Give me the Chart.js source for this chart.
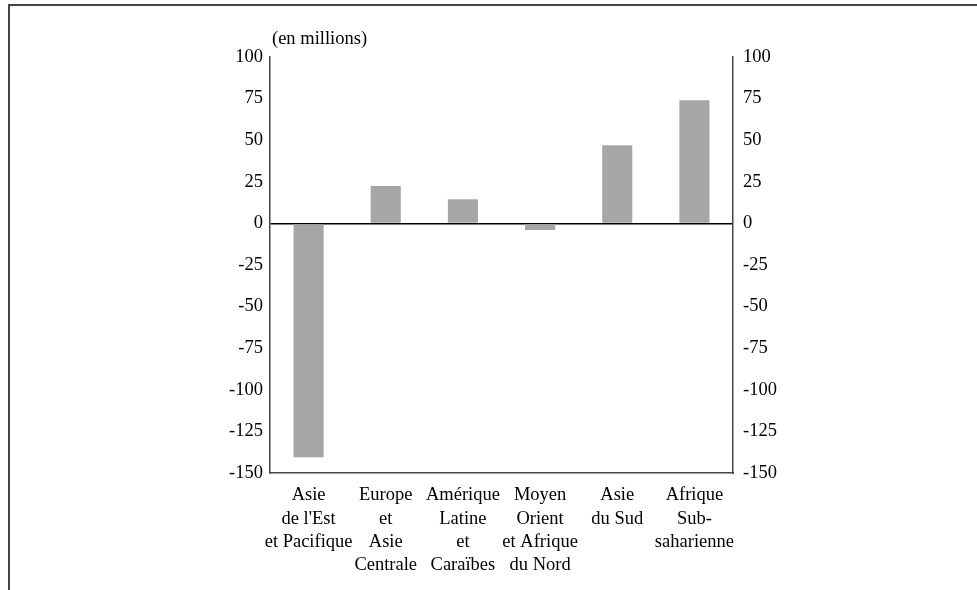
<!DOCTYPE html>
<html>
<head>
<meta charset="utf-8">
<script src="https://cdn.jsdelivr.net/npm/chart.js@4.4.1/dist/chart.umd.min.js"></script>
<style>
    html, body { margin: 0; padding: 0; background: #fff; }
    #wrap { position: relative; width: 977px; height: 590px; overflow: hidden; }
    #frame { position: absolute; left: 8px; top: 4px; right: -4px; bottom: -4px;
             border-top: 2px solid #444; border-left: 2px solid #444; }
    #chart { position: absolute; left: 0; top: 0; }
</style>
</head>
<body>
<div id="wrap">
    <div id="frame"></div>
    <canvas id="chart" width="977" height="590"></canvas>
</div>
<script>
// donnees
const regions = [
    ['Asie', "de l'Est", 'et Pacifique'],
    ['Europe', 'et', 'Asie', 'Centrale'],
    ['Amérique', 'Latine', 'et', 'Caraïbes'],
    ['Moyen', 'Orient', 'et Afrique', 'du Nord'],
    ['Asie', 'du Sud'],
    ['Afrique', 'Sub-', 'saharienne']
];
const variation = [-140.5, 22.5, 14.5, -4, 47, 74];
const yMin = -150;
const yMax = 100;
const yStep = 25;
const unitLabel = '(en millions)';

const FONT = { family: '"Liberation Serif", "Times New Roman", serif', size: 18.5, lineHeight: 1.25 };

// petit plugin pour l'unite au-dessus de l'axe gauche
const unitPlugin = {
    id: 'unitLabel',
    afterDraw(chart) {
        const { ctx, chartArea } = chart;
        ctx.save();
        ctx.font = `${FONT.size}px ${FONT.family}`;
        ctx.fillStyle = '#000';
        ctx.textAlign = 'left';
        ctx.textBaseline = 'middle';
        ctx.fillText(unitLabel, chartArea.left + 2, chartArea.top - 18);
        ctx.restore();
    }
};

const yTicks = {
    stepSize: yStep,
    color: '#000',
    font: FONT
};

new Chart(document.getElementById('chart'), {
    type: 'bar',
    data: {
        labels: regions,
        datasets: [{
            data: variation,
            backgroundColor: '#a6a6a6',
            borderWidth: 0,
            categoryPercentage: 1,
            barPercentage: 0.39
        }]
    },
    options: {
        responsive: false,
        animation: false,
        layout: { padding: { top: 57, left: 0, right: 0, bottom: 0 } },
        plugins: {
            legend: { display: false },
            tooltip: { enabled: false }
        },
        scales: {
            x: {
                grid: { display: false, drawTicks: false },
                border: { display: true, color: '#444', width: 1.5 },
                ticks: { color: '#000', font: FONT, padding: 11, maxRotation: 0, autoSkip: false },
                afterFit(scale) { scale.height = 117; }
            },
            y: {
                position: 'left',
                min: yMin,
                max: yMax,
                grid: {
                    drawTicks: false,
                    lineWidth: 1.5,
                    color: (c) => (c.tick && c.tick.value === 0 ? '#000' : 'rgba(0,0,0,0)')
                },
                border: { display: true, color: '#444', width: 1.5 },
                ticks: { ...yTicks, padding: 7 },
                afterFit(scale) { scale.width = 270; }
            },
            y2: {
                position: 'right',
                min: yMin,
                max: yMax,
                grid: { display: false, drawTicks: false },
                border: { display: true, color: '#444', width: 1.5 },
                ticks: { ...yTicks, padding: 10 },
                afterFit(scale) { scale.width = 244; }
            }
        }
    },
    plugins: [unitPlugin]
});
</script>
</body>
</html>
